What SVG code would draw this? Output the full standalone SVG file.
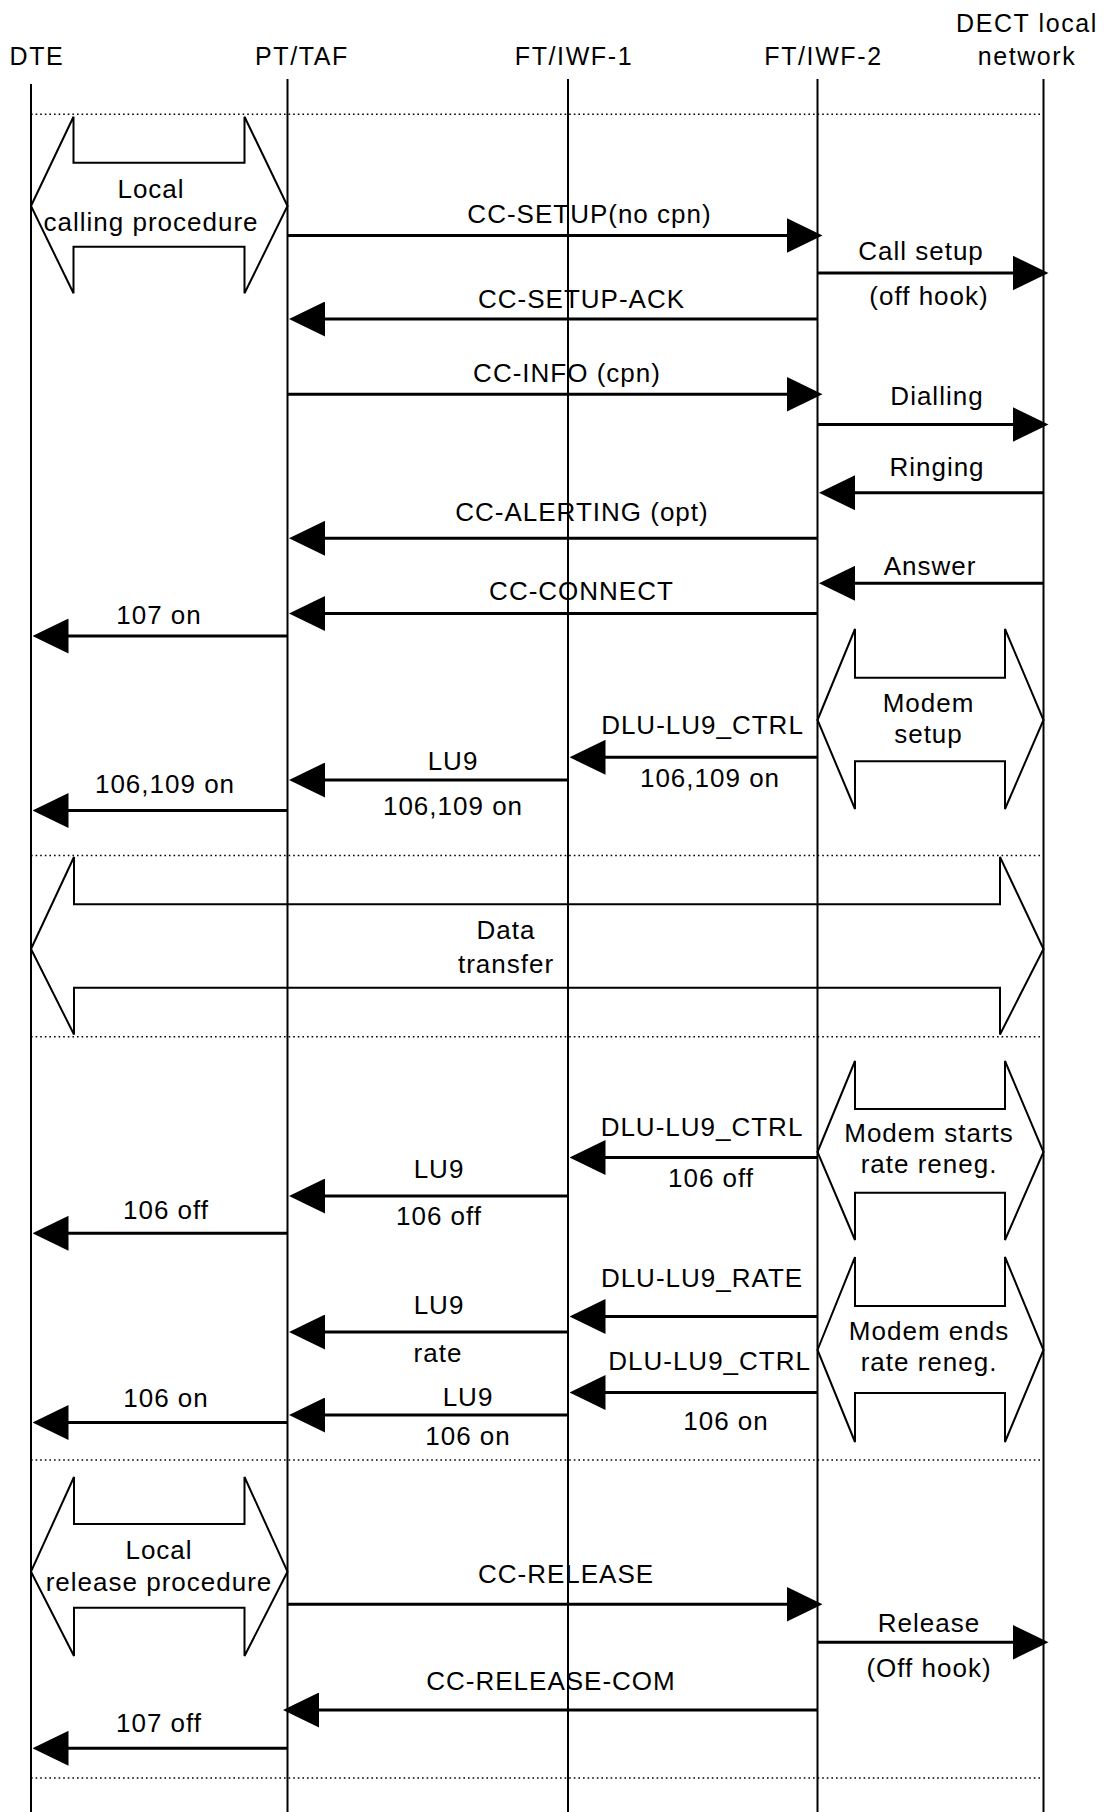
<svg xmlns="http://www.w3.org/2000/svg" width="1106" height="1812" viewBox="0 0 1106 1812">
<style>
.life{stroke:#000;stroke-width:2;fill:none}
.dot{stroke:#000;stroke-width:1.6;stroke-dasharray:1.6 3;fill:none}
.msg{stroke:#000;stroke-width:3;fill:none;marker-end:url(#ah)}
.proc{stroke:#000;stroke-width:2;fill:none;stroke-linejoin:miter}
.hdr{font-family:"Liberation Sans",Arial,sans-serif;font-size:25px;letter-spacing:1.6px;text-anchor:middle;fill:#000}
.lbl{font-family:"Liberation Sans",Arial,sans-serif;font-size:26px;letter-spacing:1px;text-anchor:middle;fill:#000}
</style>
<defs>
<marker id="ah" markerUnits="userSpaceOnUse" viewBox="0 0 36 35" markerWidth="36" markerHeight="35" refX="26" refY="17.5" orient="auto">
<path d="M0,0 L36,17.5 L0,35 Z" fill="#000"/>
</marker>
</defs>
<rect width="1106" height="1812" fill="#fff"/>

<g id="lifelines">
<g id="DTE"><text class="hdr" x="37" y="65">DTE</text><line class="life" x1="31" y1="84" x2="31" y2="1812"/></g>
<g id="PT_TAF"><text class="hdr" x="302" y="65">PT/TAF</text><line class="life" x1="287.5" y1="79" x2="287.5" y2="1812"/></g>
<g id="FT_IWF_1"><text class="hdr" x="574" y="65">FT/IWF-1</text><line class="life" x1="568" y1="79" x2="568" y2="1812"/></g>
<g id="FT_IWF_2"><text class="hdr" x="823.5" y="65">FT/IWF-2</text><line class="life" x1="817.5" y1="79" x2="817.5" y2="1812"/></g>
<g id="DECT"><text class="hdr" x="1027" y="32">DECT local</text><text class="hdr" x="1027" y="65">network</text><line class="life" x1="1043.5" y1="79" x2="1043.5" y2="1812"/></g>
</g>

<g id="separators">
<line class="dot" x1="31" y1="114.3" x2="1043.5" y2="114.3"/>
<line class="dot" x1="31" y1="855.5" x2="1043.5" y2="855.5"/>
<line class="dot" x1="31" y1="1036.7" x2="1043.5" y2="1036.7"/>
<line class="dot" x1="31" y1="1460" x2="1043.5" y2="1460"/>
<line class="dot" x1="31" y1="1778" x2="1043.5" y2="1778"/>
</g>

<g id="proc_local_calling">
<path class="proc" d="M31,206 L73.5,116.7 L73.5,162.7 L244.5,162.7 L244.5,116.7 L287.5,206 L244.5,293.3 L244.5,246.7 L73.5,246.7 L73.5,293.3 Z"/>
<text class="lbl" x="151" y="197.5">Local</text>
<text class="lbl" x="151" y="231">calling procedure</text>
</g>

<g id="proc_modem_setup">
<path class="proc" d="M817.5,720 L855,629 L855,677.7 L1005,677.7 L1005,629 L1043.5,720 L1005,809 L1005,761.3 L855,761.3 L855,809 Z"/>
<text class="lbl" x="928.5" y="711.5">Modem</text>
<text class="lbl" x="928.5" y="742.5">setup</text>
</g>

<g id="proc_data_transfer">
<path class="proc" d="M31,949 L74,857 L74,904.3 L1000,904.3 L1000,857 L1043.5,949 L1000,1034.5 L1000,987.7 L74,987.7 L74,1034.5 Z"/>
<text class="lbl" x="506" y="939">Data</text>
<text class="lbl" x="506" y="972.5">transfer</text>
</g>

<g id="proc_modem_starts">
<path class="proc" d="M817.5,1152 L855,1061 L855,1109 L1005,1109 L1005,1061 L1043.5,1152 L1005,1240 L1005,1192.7 L855,1192.7 L855,1240 Z"/>
<text class="lbl" x="929" y="1142">Modem starts</text>
<text class="lbl" x="929" y="1173">rate reneg.</text>
</g>

<g id="proc_modem_ends">
<path class="proc" d="M817.5,1350 L855,1257 L855,1306 L1005,1306 L1005,1257 L1043.5,1350 L1005,1442 L1005,1393 L855,1393 L855,1442 Z"/>
<text class="lbl" x="929" y="1340">Modem ends</text>
<text class="lbl" x="929" y="1371">rate reneg.</text>
</g>

<g id="proc_local_release">
<path class="proc" d="M31,1571.7 L74,1477 L74,1524 L244.5,1524 L244.5,1477 L287.5,1571.7 L244.5,1656 L244.5,1607.7 L74,1607.7 L74,1656 Z"/>
<text class="lbl" x="159" y="1559">Local</text>
<text class="lbl" x="159" y="1591">release procedure</text>
</g>

<g id="connectors">
<line class="msg" x1="287.5" y1="235.5" x2="812.5" y2="235.5"/>
<line class="msg" x1="817.5" y1="273" x2="1038.5" y2="273"/>
<line class="msg" x1="817.5" y1="319" x2="299" y2="319"/>
<line class="msg" x1="287.5" y1="394.3" x2="812.5" y2="394.3"/>
<line class="msg" x1="817.5" y1="424.5" x2="1038.5" y2="424.5"/>
<line class="msg" x1="1043.5" y1="492.7" x2="829" y2="492.7"/>
<line class="msg" x1="817.5" y1="538.3" x2="299" y2="538.3"/>
<line class="msg" x1="1043.5" y1="583.3" x2="829" y2="583.3"/>
<line class="msg" x1="817.5" y1="613.5" x2="299" y2="613.5"/>
<line class="msg" x1="287.5" y1="636" x2="42.5" y2="636"/>
<line class="msg" x1="817.5" y1="757.3" x2="579.5" y2="757.3"/>
<line class="msg" x1="568" y1="780" x2="299" y2="780"/>
<line class="msg" x1="287.5" y1="810.5" x2="42.5" y2="810.5"/>
<line class="msg" x1="817.5" y1="1157.5" x2="579.5" y2="1157.5"/>
<line class="msg" x1="568" y1="1196" x2="299" y2="1196"/>
<line class="msg" x1="287.5" y1="1233.3" x2="42.5" y2="1233.3"/>
<line class="msg" x1="817.5" y1="1316.5" x2="579.5" y2="1316.5"/>
<line class="msg" x1="568" y1="1332" x2="299" y2="1332"/>
<line class="msg" x1="817.5" y1="1392.5" x2="579.5" y2="1392.5"/>
<line class="msg" x1="568" y1="1415" x2="299" y2="1415"/>
<line class="msg" x1="287.5" y1="1422.5" x2="42.5" y2="1422.5"/>
<line class="msg" x1="287.5" y1="1604.3" x2="812.5" y2="1604.3"/>
<line class="msg" x1="817.5" y1="1642.3" x2="1038.5" y2="1642.3"/>
<line class="msg" x1="817.5" y1="1710" x2="293" y2="1710"/>
<line class="msg" x1="287.5" y1="1748.3" x2="42.5" y2="1748.3"/>
</g>

<g id="connector_labels">
<text class="lbl" x="589.5" y="223">CC-SETUP(no cpn)</text>
<text class="lbl" x="921" y="259.5">Call setup</text>
<text class="lbl" x="929" y="305">(off hook)</text>
<text class="lbl" x="581.5" y="307.5">CC-SETUP-ACK</text>
<text class="lbl" x="567" y="382">CC-INFO (cpn)</text>
<text class="lbl" x="937" y="405">Dialling</text>
<text class="lbl" x="937" y="476">Ringing</text>
<text class="lbl" x="582" y="521">CC-ALERTING (opt)</text>
<text class="lbl" x="930" y="575">Answer</text>
<text class="lbl" x="581.5" y="600">CC-CONNECT</text>
<text class="lbl" x="159" y="623.5">107 on</text>
<text class="lbl" x="702.5" y="734.3">DLU-LU9_CTRL</text>
<text class="lbl" x="710" y="787">106,109 on</text>
<text class="lbl" x="453" y="770">LU9</text>
<text class="lbl" x="453" y="815">106,109 on</text>
<text class="lbl" x="165" y="792.5">106,109 on</text>
<text class="lbl" x="702" y="1136">DLU-LU9_CTRL</text>
<text class="lbl" x="711" y="1186.5">106 off</text>
<text class="lbl" x="439" y="1178">LU9</text>
<text class="lbl" x="439" y="1225">106 off</text>
<text class="lbl" x="166" y="1219">106 off</text>
<text class="lbl" x="702" y="1287">DLU-LU9_RATE</text>
<text class="lbl" x="439" y="1314">LU9</text>
<text class="lbl" x="438" y="1361.5">rate</text>
<text class="lbl" x="709.6" y="1370">DLU-LU9_CTRL</text>
<text class="lbl" x="726" y="1430">106 on</text>
<text class="lbl" x="468" y="1405.5">LU9</text>
<text class="lbl" x="468" y="1445">106 on</text>
<text class="lbl" x="166" y="1406.5">106 on</text>
<text class="lbl" x="566" y="1582.5">CC-RELEASE</text>
<text class="lbl" x="929" y="1631.5">Release</text>
<text class="lbl" x="929" y="1677">(Off hook)</text>
<text class="lbl" x="551" y="1690">CC-RELEASE-COM</text>
<text class="lbl" x="159" y="1731.5">107 off</text>
</g>
</svg>
